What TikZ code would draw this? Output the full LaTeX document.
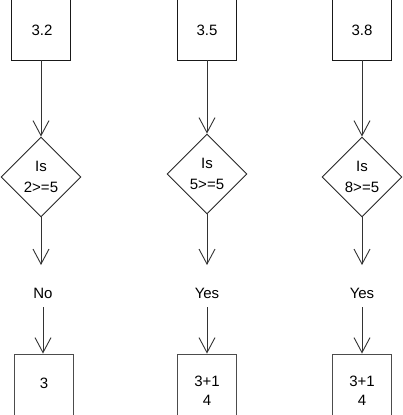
\documentclass[tikz,border=0pt]{standalone}
\usepackage{fontspec}
\setmainfont{Liberation Sans}
\usetikzlibrary{shapes.geometric,arrows.meta}
\begin{document}
\begin{tikzpicture}[x=1pt,y=-1pt,
  box/.style={draw=black!90, line width=0.9pt, minimum width=59pt, minimum height=66pt, inner sep=0pt},
  lowbox/.style={draw=black!70, line width=0.9pt, minimum width=59pt, minimum height=80pt, inner sep=0pt},
  dia/.style={diamond, draw=black!85, line width=0.9pt, minimum width=80pt, minimum height=80pt, inner sep=0pt, align=center, font=\fontsize{15}{21}\selectfont},
  txt/.style={font=\fontsize{15}{19}\selectfont, align=center, inner sep=0pt},
  lbl/.style={txt, minimum height=28pt},
  arr/.style={draw=black!80, line width=0.9pt, -{Straight Barb[length=15pt,width=16pt]}}]
\useasboundingbox (0,0) rectangle (402,415);
% top boxes (their top edges lie above the picture)
\node[box] (t1) at (41,27) {};
\node[box] (t2) at (207,27) {};
\node[box] (t3) at (362,27) {};
\node[txt] (y1) at (42,30) {3.2};
\node[txt] (y2) at (207,30) {3.5};
\node[txt] (y3) at (362,30) {3.8};
% diamonds
\node[dia] (d1) at (41,177) {Is\\2>=5};
\node[dia] (d2) at (207,174) {Is\\5>=5};
\node[dia] (d3) at (362,177) {Is\\8>=5};
\draw[arr] (t1.south) -- (d1.north);
\draw[arr] (t2.south) -- (d2.north);
\draw[arr] (t3.south) -- (d3.north);
% free ends
\coordinate (e1) at (41,265);
\coordinate (e2) at (207,265);
\coordinate (e3) at (362,265);
\draw[arr] (d1.south) -- (e1);
\draw[arr] (d2.south) -- (e2);
\draw[arr] (d3.south) -- (e3);
% labels
\node[lbl] (l1) at (43,293) {No};
\node[lbl] (l2) at (207,293) {Yes};
\node[lbl] (l3) at (362,293) {Yes};
% bottom boxes
\node[lowbox] (b1) at (44,394) {};
\node[lowbox] (b2) at (207.3,394) {};
\node[lowbox] (b3) at (361.5,394) {};
\node[txt] (x1) at (44,383) {3};
\node[txt] (x2) at (207,391) {3+1\\4};
\node[txt] (x3) at (362,391) {3+1\\4};
\draw[arr] (l1.south) -- (l1.south |- b1.north);
\draw[arr] (l2.south) -- (l2.south |- b2.north);
\draw[arr] (l3.south) -- (l3.south |- b3.north);
\end{tikzpicture}
\end{document}
